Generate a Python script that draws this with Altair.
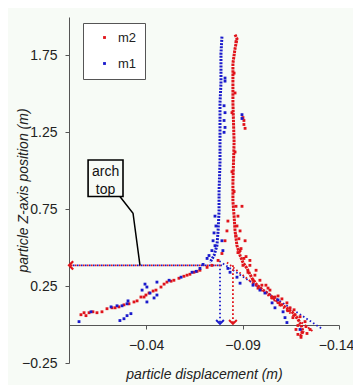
import altair as alt
import pandas as pd

RED = "#e0141b"
BLUE = "#1a1acc"
FONT = "Liberation Sans"

# ---- scattered particle positions (displacement m, Z position m)
m1_x = [-0.0809, -0.0809, -0.0804, -0.0809, -0.0804, -0.0809, -0.0804, -0.0897, -0.0897,
        -0.0757, -0.0762, -0.0752, -0.0747, -0.0757, -0.0741, -0.0726, -0.0793, -0.0798,
        -0.0716, -0.0695, -0.0679, -0.0659, -0.0638,
        -0.0581, -0.0519, -0.0456, -0.0456, -0.0441, -0.0420, -0.0404, -0.0394, -0.0379,
        -0.0404, -0.0321, -0.0301, -0.0285, -0.0264, -0.0306, -0.0301, -0.0275, -0.0249,
        -0.0218, -0.0114, -0.0052,
        -0.0835, -0.0871, -0.0887, -0.0954, -0.0990, -0.1053, -0.1068, -0.1110, -0.1120,
        -0.1130, -0.1198, -0.1016, -0.1084, -0.0824]
m1_z = [1.603, 1.583, 1.423, 1.378, 1.327, 1.282, 1.250, 1.365, 1.340,
        0.705, 0.641, 0.596, 0.545, 0.513, 0.481, 0.449, 0.545, 0.481,
        0.430, 0.391, 0.365, 0.346, 0.340,
        0.308, 0.288, 0.276, 0.192, 0.173, 0.205, 0.244, 0.263, 0.224,
        0.147, 0.071, 0.058, 0.038, 0.026, 0.154, 0.135, 0.122, 0.122,
        0.115, 0.083, 0.019,
        0.340, 0.308, 0.269, 0.256, 0.224, 0.141, 0.109, 0.083, 0.045,
        0.013, -0.032, 0.205, 0.160, 0.365]

m2_x = [-0.0907, -0.0907, -0.0913, -0.0902,
        -0.0824, -0.0819, -0.0809, -0.0793, -0.0773, -0.0741, -0.0716, -0.0679,
        -0.0664, -0.0648, -0.0612, -0.0596, -0.0570, -0.0544, -0.0508, -0.0477, -0.0451,
        -0.0415, -0.0389, -0.0373, -0.0353, -0.0337, -0.0311, -0.0285, -0.0259, -0.0223,
        -0.0197, -0.0171, -0.0145, -0.0104, -0.0078, -0.0062,
        -0.0399, -0.0436, -0.0493, -0.0529, -0.0627, -0.0239, -0.0124, -0.0088,
        -0.0887, -0.0907, -0.0938, -0.0964, -0.1000, -0.1032, -0.1068, -0.1104, -0.1146,
        -0.1172, -0.1224, -0.1250, -0.1187, -0.0897, -0.0913,
        -0.0866, -0.0881, -0.0892, -0.0876, -0.0918, -0.0902, -0.0938, -0.0928, -0.0970,
        -0.0954, -0.0990, -0.0980, -0.1021, -0.1042, -0.1053, -0.1084, -0.1094, -0.1130,
        -0.1135, -0.1167, -0.1161, -0.1198, -0.1187, -0.1229, -0.1208, -0.1234, -0.1203,
        -0.1177,
        -0.0866, -0.0856, -0.0861, -0.0845, -0.0861, -0.0845, -0.0856, -0.0866, -0.0876,
        -0.0871, -0.0887]
m2_z = [1.327, 1.301, 1.276, 1.346,
        0.673, 0.609, 0.545, 0.462, 0.417, 0.385, 0.372, 0.353,
        0.346, 0.340, 0.321, 0.314, 0.301, 0.288, 0.276, 0.244, 0.224,
        0.205, 0.179, 0.179, 0.154, 0.147, 0.135, 0.128, 0.115, 0.109,
        0.103, 0.083, 0.077, 0.077, 0.077, 0.064,
        0.192, 0.218, 0.263, 0.282, 0.327, 0.109, 0.083, 0.058,
        0.481, 0.430, 0.385, 0.321, 0.256, 0.237, 0.179, 0.167, 0.109,
        0.064, 0.019, -0.032, -0.064, 0.769, 0.545,
        0.577, 0.558, 0.494, 0.468, 0.442, 0.385, 0.417, 0.340, 0.353,
        0.288, 0.288, 0.237, 0.256, 0.224, 0.173, 0.186, 0.128, 0.141,
        0.090, 0.096, 0.045, 0.051, -0.006, -0.013, -0.051, -0.058, -0.083,
        -0.032,
        1.840, 1.635, 1.506, 1.378, 1.122, 0.994, 0.865, 0.769, 0.705,
        0.641, 0.609]

# ---- dense trajectories (traced)
m1_path_x = [-0.0793, -0.0788, -0.0788, -0.0783, -0.0783, -0.0783, -0.0778, -0.0778,
             -0.0773, -0.0767, -0.0752, -0.0731]
m1_path_z = [1.872, 1.763, 1.570, 1.442, 1.250, 1.058, 0.865, 0.737,
             0.609, 0.513, 0.449, 0.404]
m2_path_x = [-0.0861, -0.0871, -0.0861, -0.0850, -0.0850, -0.0856, -0.0850, -0.0850,
             -0.0856, -0.0861, -0.0871, -0.0887, -0.0902, -0.0923, -0.0949, -0.0975,
             -0.1006, -0.1042, -0.1084, -0.1120, -0.1156, -0.1182, -0.1203, -0.1213, -0.1198]
m2_path_z = [1.885, 1.859, 1.795, 1.699, 1.442, 1.186, 0.929, 0.801,
             0.705, 0.609, 0.513, 0.449, 0.404, 0.365, 0.301, 0.256,
             0.224, 0.192, 0.147, 0.115, 0.083, 0.045, 0.0, -0.045, -0.083]

# ---- annotation guides
arch_z = 0.385
m1_arch_x = -0.0783
m2_arch_x = -0.0850
guide_x = [-0.0793, -0.0798, -0.0819]
trend_m1 = [(-0.0798, 0.397), (-0.1317, -0.032)]
trend_m2 = [(-0.0819, 0.404), (-0.1265, -0.045)]
box = (-0.0099, -0.0280, 1.070, 0.833)
connector_x = [-0.0264, -0.0332, -0.0368]
connector_z = [0.833, 0.724, 0.385]

x_ticks = [-0.04, -0.09, -0.14]
y_ticks = [-0.25, 0.25, 0.75, 1.25, 1.75]

xscale = alt.Scale(domain=[-0.14, 0.0], reverse=True, nice=False, zero=False)
yscale = alt.Scale(domain=[-0.25, 2.0], nice=False, zero=False)
cscale = alt.Scale(domain=["m2", "m1"], range=[RED, BLUE])

pts = pd.DataFrame({
    "x": m2_x + m1_x,
    "z": m2_z + m1_z,
    "series": ["m2"] * len(m2_x) + ["m1"] * len(m1_x),
})

points = alt.Chart(pts).mark_point(filled=True, shape="square", size=8, opacity=1).encode(
    x=alt.X("x:Q", scale=xscale,
            axis=alt.Axis(values=x_ticks, format=".2f", title="particle displacement (m)",
                          offset=-38, grid=False, tickSize=4, labelPadding=9,
                          labelOffset={"condition": {"test": "datum.value < -0.13", "value": -3},
                                       "value": 0},
                          titlePadding=15, titleFontStyle="italic", titleFontWeight="normal",
                          titleFontSize=14, labelFontSize=14, labelFont=FONT, titleFont=FONT,
                          domainColor="#555", tickColor="#555", labelColor="#222",
                          titleColor="#222", labelFlush=False)),
    y=alt.Y("z:Q", scale=yscale,
            axis=alt.Axis(values=y_ticks, format=".2f", title="particle Z-axis position (m)",
                          grid=False, tickSize=4, labelPadding=8,
                          titleX=-46, titleY=173, titleBaseline="middle", titleAngle=270,
                          titleFontStyle="italic", titleFontWeight="normal", titleFontSize=14,
                          labelFontSize=14, labelFont=FONT, titleFont=FONT,
                          domainColor="#555", tickColor="#555", labelColor="#222",
                          titleColor="#222", labelFlush=False)),
    color=alt.Color("series:N", scale=cscale,
                    legend=alt.Legend(title=None, orient="none", legendX=14, legendY=6,
                                      fillColor="white", strokeColor="#555", padding=8,
                                      symbolType="square", symbolSize=8, symbolOffset=7,
                                      labelOffset=7, rowPadding=12, labelFontSize=13,
                                      labelFont=FONT, labelColor="#222")),
)

m1_path = pd.DataFrame({"x": m1_path_x, "z": m1_path_z, "i": range(len(m1_path_x))})
m2_path = pd.DataFrame({"x": m2_path_x, "z": m2_path_z, "i": range(len(m2_path_x))})

line_m1 = alt.Chart(m1_path).mark_line(color=BLUE, strokeWidth=3, strokeDash=[2, 1.2]).encode(
    x=alt.X("x:Q", scale=xscale), y=alt.Y("z:Q", scale=yscale), order="i:Q")
line_m2 = alt.Chart(m2_path).mark_line(color=RED, strokeWidth=3, strokeDash=[2.5, 0.8]).encode(
    x=alt.X("x:Q", scale=xscale), y=alt.Y("z:Q", scale=yscale), order="i:Q")

guides = pd.DataFrame({
    "x": [0.0, 0.0, m1_arch_x, m2_arch_x, trend_m1[0][0], trend_m2[0][0]],
    "x2": [guide_x[0], guide_x[0], m1_arch_x, m2_arch_x, trend_m1[1][0], trend_m2[1][0]],
    "z": [arch_z, arch_z, arch_z + 0.03, arch_z, trend_m1[0][1], trend_m2[0][1]],
    "z2": [arch_z, arch_z, 0.01, 0.01, trend_m1[1][1], trend_m2[1][1]],
    "c": ["m1", "m2", "m1", "m2", "m1", "m2"],
    "off": [0, 2, 0, 0, 0, 0],
})

def guide_layer(series, offset):
    d = guides[(guides.c == series) & (guides.off == offset)]
    return alt.Chart(d).mark_rule(
        color=BLUE if series == "m1" else RED, strokeWidth=1.8,
        strokeDash=[1.6, 2.4], strokeDashOffset=offset).encode(
        x=alt.X("x:Q", scale=xscale), x2="x2:Q",
        y=alt.Y("z:Q", scale=yscale), y2="z2:Q")

g1 = guide_layer("m1", 0)
g2 = guide_layer("m2", 2)
g3 = guide_layer("m2", 0)

heads = pd.DataFrame({
    "x": [0.0, m1_arch_x, m2_arch_x],
    "z": [arch_z, 0.004, 0.004],
    "c": ["left", "m1", "m2"],
})
head_left = alt.Chart(heads[heads.c == "left"]).mark_point(
    shape="M1,-1L0,0L1,1", size=70, filled=False, color=RED, strokeWidth=2.2, opacity=1).encode(
    x=alt.X("x:Q", scale=xscale), y=alt.Y("z:Q", scale=yscale))
head_m1 = alt.Chart(heads[heads.c == "m1"]).mark_point(
    shape="M-1,-1L0,0L1,-1", size=60, filled=False, color=BLUE, strokeWidth=2, opacity=1).encode(
    x=alt.X("x:Q", scale=xscale), y=alt.Y("z:Q", scale=yscale))
head_m2 = alt.Chart(heads[heads.c == "m2"]).mark_point(
    shape="M-1,-1L0,0L1,-1", size=60, filled=False, color=RED, strokeWidth=2, opacity=1).encode(
    x=alt.X("x:Q", scale=xscale), y=alt.Y("z:Q", scale=yscale))

box_df = pd.DataFrame({"x": [box[0]], "x2": [box[1]], "z": [box[2]], "z2": [box[3]]})
box_layer = alt.Chart(box_df).mark_rect(fill="white", fillOpacity=0, stroke="black",
                                        strokeWidth=1.6).encode(
    x=alt.X("x:Q", scale=xscale), x2="x2:Q", y=alt.Y("z:Q", scale=yscale), y2="z2:Q")

label_df = pd.DataFrame({"x": [(box[0] + box[1]) / 2] * 2, "z": [0.994, 0.878],
                         "t": ["arch", "top"]})
label_layer = alt.Chart(label_df).mark_text(font=FONT, fontSize=14, color="#111",
                                            baseline="middle").encode(
    x=alt.X("x:Q", scale=xscale), y=alt.Y("z:Q", scale=yscale), text="t:N")

conn_df = pd.DataFrame({"x": connector_x, "z": connector_z, "i": [0, 1, 2]})
conn_layer = alt.Chart(conn_df).mark_line(color="black", strokeWidth=1.5).encode(
    x=alt.X("x:Q", scale=xscale), y=alt.Y("z:Q", scale=yscale), order="i:Q")

chart = alt.layer(
    g1, g2, g3, line_m1, line_m2, points, head_left, head_m1, head_m2,
    box_layer, label_layer, conn_layer,
).properties(
    width=270, height=346,
    padding={"left": 61, "top": 9, "right": 14, "bottom": 22},
    autosize=alt.AutoSizeParams(type="none"),
    background="#f7fbf6",
).configure_view(stroke=None)

chart.save("out.html", embed_options={"renderer": "svg", "actions": False})
